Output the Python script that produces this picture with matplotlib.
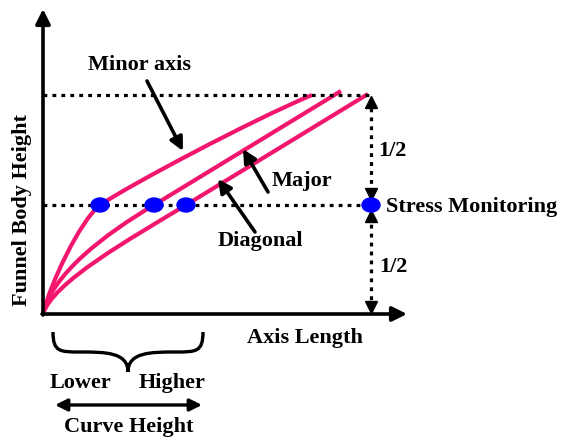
import matplotlib.pyplot as plt
from matplotlib.path import Path
from matplotlib.patches import PathPatch, Ellipse

# Schematic drawn in picture units (x to the right, y downward)
origin = (43, 315)
x_axis_tip = (407, 315)
y_axis_tip = (43, 10)
top_level = 96
monitor_level = 206
guide_end = 370

# Cubic bezier control points of the three curves
curve_names = ["Minor axis", "Major", "Diagonal"]
curve_points = {
    "Minor axis": [(43, 315), (50, 285), (80, 222), (100, 206),
                   (130, 186), (250, 122), (312, 96)],
    "Major": [(43, 315), (52, 275), (105, 235), (154, 206),
              (216, 168), (279, 130), (341, 92)],
    "Diagonal": [(43, 315), (53, 283), (130, 240), (186, 206),
                 (247, 169), (307, 132), (368, 95)],
}
dot_x = [100, 154, 186, 371]

# Labels with their arrows (text position, arrow tail, arrow tip)
callouts = [
    ("Minor axis", (140, 65), (147, 82), (183, 152)),
    ("Major", (302, 181), (268, 193), (243, 150)),
    ("Diagonal", (260, 241), (255, 233), (218, 180)),
]

pink = "#F2166E"
blue = "#0000FF"
font = dict(family="Liberation Serif", weight="bold", size=16)


def main():
    fig = plt.figure(figsize=(5.64, 4.39), dpi=100)
    ax = fig.add_axes([0, 0, 1, 1])
    ax.set_xlim(0, 564)
    ax.set_ylim(439, 0)
    ax.axis("off")

    # Dotted guide lines
    dots = dict(color="black", lw=2.3, linestyle=(0, (1.2, 1.6)))
    ax.plot([origin[0], guide_end], [top_level, top_level], **dots)
    ax.plot([origin[0], guide_end], [monitor_level, monitor_level], **dots)
    ax.plot([371, 371], [top_level + 4, origin[1] - 4], **dots)
    for y, m in [(103, "^"), (195, "v"), (217, "^"), (308, "v")]:
        ax.plot(371, y, marker=m, color="black", markersize=8)

    # Axes
    axis_arrow = dict(arrowstyle="-|>", lw=2.6, color="black",
                      mutation_scale=22, shrinkA=0, shrinkB=0)
    ax.annotate("", xy=x_axis_tip, xytext=(origin[0] - 1, origin[1]),
                arrowprops=axis_arrow)
    ax.annotate("", xy=y_axis_tip, xytext=(origin[0], origin[1] + 1),
                arrowprops=axis_arrow)

    # Curves
    codes = [Path.MOVETO] + [Path.CURVE4] * 6
    for name in curve_names:
        path = Path(curve_points[name], codes)
        ax.add_patch(PathPatch(path, facecolor="none", edgecolor=pink,
                               lw=3.0, capstyle="butt"))

    # Monitoring points
    for x in dot_x:
        ax.add_patch(Ellipse((x, monitor_level), 18, 14, color=blue, zorder=5))

    # Callouts
    for label, text_xy, tail, tip in callouts:
        ax.text(*text_xy, label, ha="center", va="center", **font)
        ax.annotate("", xy=tip, xytext=tail,
                    arrowprops=dict(arrowstyle="-|>", lw=2.6, color="black",
                                    mutation_scale=20, shrinkA=0, shrinkB=0))

    ax.text(378, 151, "1/2", ha="left", va="center", **font)
    ax.text(379, 267, "1/2", ha="left", va="center", **font)
    ax.text(386, 207, "Stress Monitoring", ha="left", va="center", **font)
    ax.text(305, 338, "Axis Length", ha="center", va="center", **font)
    ax.text(22, 210, "Funnel Body Height", ha="center", va="center",
            rotation=90, **font)

    # Brace under the axis
    brace = Path([(53, 333), (53, 353), (60, 353), (80, 353),
                  (105, 353), (128, 353), (128, 373),
                  (128, 353), (151, 353), (176, 353),
                  (196, 353), (203, 353), (203, 333)],
                 [Path.MOVETO] + [Path.CURVE4] * 12)
    ax.add_patch(PathPatch(brace, facecolor="none", edgecolor="black", lw=2.4))

    ax.text(80, 383, "Lower", ha="center", va="center", **font)
    ax.text(172, 383, "Higher", ha="center", va="center", **font)
    ax.annotate("", xy=(202, 406), xytext=(55, 406),
                arrowprops=dict(arrowstyle="<|-|>", lw=2.4, color="black",
                                mutation_scale=18, shrinkA=0, shrinkB=0))
    ax.text(129, 427, "Curve Height", ha="center", va="center", **font)

    fig.savefig("out.png", dpi=100)


if __name__ == "__main__":
    main()
